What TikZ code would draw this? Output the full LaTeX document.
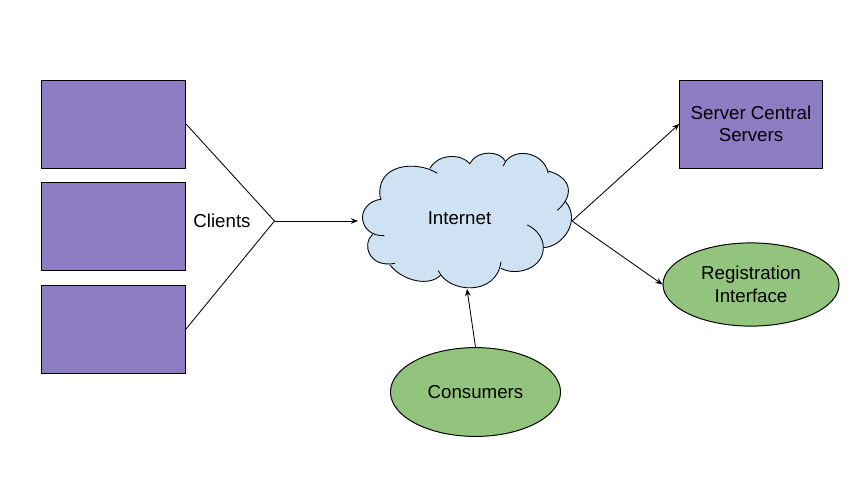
\documentclass[tikz,border=0pt]{standalone}
\usepackage{fontspec}
\setmainfont{Liberation Sans}
\usetikzlibrary{arrows.meta, shapes.geometric}
\definecolor{boxpurple}{HTML}{8E7CC3}
\definecolor{ovalgreen}{HTML}{93C47D}
\definecolor{cloudblue}{HTML}{CFE2F3}
\newcommand{\cloudlobes}{
    {(125,177)}/{(40,190)}/{(55,290)}/{(133,287)},
    {(98,283)}/{(65,310)}/{(85,385)}/{(165,370)},
    {(150,375)}/{(190,425)}/{(270,440)}/{(302,405)},
    {(295,392)}/{(325,460)}/{(470,470)}/{(483,365)},
    {(483,385)}/{(530,410)}/{(610,385)}/{(610,323)},
    {(610,323)}/{(610,290)}/{(585,265)}/{(562,255)},
    {(610,323)}/{(670,320)}/{(725,240)}/{(675,183)},
    {(652,211)}/{(700,170)}/{(700,115)}/{(625,93)},
    {(625,100)}/{(610,30)}/{(510,20)}/{(490,78)},
    {(497,65)}/{(480,30)}/{(410,30)}/{(390,70)},
    {(390,72)}/{(365,40)}/{(295,40)}/{(270,85)},
    {(292,100)}/{(230,60)}/{(100,70)}/{(122,180)}}

\begin{document}
\begin{tikzpicture}[
    x=0.025cm, y=-0.025cm,
    box/.style={draw, fill=boxpurple, line width=0.7pt, minimum width=3.6cm, minimum height=2.2cm, align=center, font=\fontsize{13.3}{16}\selectfont},
    oval/.style={draw, ellipse, fill=ovalgreen, line width=0.7pt, inner sep=0pt, align=center, font=\fontsize{13.3}{16}\selectfont},
    plain/.style={font=\fontsize{13.3}{16}\selectfont},
    link/.style={line width=0.6pt},
    arr/.style={-{Stealth[length=5pt, width=4pt]}, line width=0.6pt},
    lobefill/.style={fill=cloudblue, draw=cloudblue, line width=0.8pt},
]
\useasboundingbox (0, 0) rectangle (860, 495);

% Cloud
\begin{scope}[shift={(340, 140)}, scale=1/3]
\path[lobefill] (125,177) -- (98,283) -- (150,375) -- (302,405) -- (483,385) -- (610,323) -- (675,183) -- (625,93) -- (497,65) -- (390,70) -- (270,85) -- cycle;
\foreach \pa/\pb/\pc/\pd in \cloudlobes {
  \path[lobefill] \pa .. controls \pb and \pc .. \pd -- cycle;
}
\foreach \pa/\pb/\pc/\pd in \cloudlobes {
  \draw[line width=0.6pt] \pa .. controls \pb and \pc .. \pd;
}
\end{scope}
\node[plain] (internet) at (459.5, 218.5) {Internet};

% Cloud contact points
\coordinate (cloudW) at (358, 221);
\coordinate (cloudE) at (572, 221);
\coordinate (cloudS) at (467, 289);
\coordinate (junction) at (274.5, 221);

% Client boxes
\node[box] (client1) at (113.5, 124) {};
\node[box] (client2) at (113.5, 226.5) {};
\node[box] (client3) at (113.5, 329) {};
\node[plain] (clients) at (222, 220.5) {Clients};

% Right side
\node[box, minimum width=3.56cm] (server) at (751, 124) {Server Central\\Servers};
\node[oval, minimum width=4.4cm, minimum height=2.08cm] (registration) at (751, 284.5) {Registration\\Interface};
\node[oval, minimum width=4.25cm, minimum height=2.22cm] (consumers) at (475.5, 392) {Consumers};

% Connectors
\draw[link] (client1.east) -- (junction);
\draw[link] (client3.east) -- (junction);
\draw[arr] (junction) -- (cloudW);
\draw[arr] (cloudE) -- (server.west);
\draw[arr] (cloudE) -- (registration.west);
\draw[arr] (consumers.north) -- (cloudS);

\end{tikzpicture}
\end{document}
